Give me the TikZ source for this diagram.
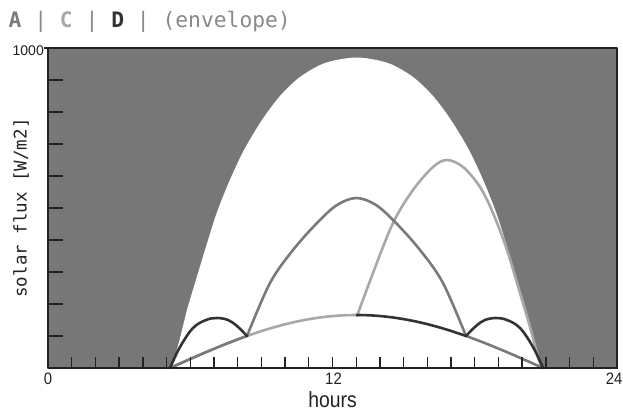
\documentclass[tikz,border=0pt]{standalone}
\usepackage{fontspec}
\setmainfont{Liberation Sans}
\setmonofont{DejaVu Sans Mono}
\definecolor{bg}{HTML}{777777}
\definecolor{cdark}{HTML}{333333}
\definecolor{cmed}{HTML}{7A7A7A}
\definecolor{clight}{HTML}{A8A8A8}
\definecolor{ctxt}{HTML}{222222}
\definecolor{cbar}{HTML}{888888}
\begin{document}
\begin{tikzpicture}[x=1pt,y=-1pt,line join=round]
\tikzset{
  curvedark/.style={draw=cdark,line width=2.6pt,line cap=round},
  curvemed/.style={draw=cmed,line width=2.6pt,line cap=round},
  curvelight/.style={draw=clight,line width=2.6pt,line cap=round},
  axisline/.style={draw=ctxt,line width=2.4pt},
  frameline/.style={draw=ctxt,line width=1.4pt},
  tickline/.style={draw=ctxt,line width=1.4pt},
  numlbl/.style={text=ctxt,inner sep=0pt,font=\fontsize{16.5}{16.5}\selectfont},
}
\useasboundingbox (0,0) rectangle (623,412);
% background of plot
\fill[bg] (48,48) rectangle (617,368);
% envelope
\fill[white] plot[smooth,tension=0.5] coordinates {
  (170,368) (174,360) (180,338) (187,310) (195,283) (205,250) (216,215)
  (229,182) (244,150) (262,120) (280,96) (300,77) (325,63) (356.5,57.5)
  (388,63) (413,77) (433,96) (451,120) (469,150) (484,182) (497,215)
  (508,250) (518,283) (526,310) (533,338) (539,360) (543,368)} -- cycle;
% C (light): baseline to noon, then arch
\draw[curvelight] plot[domain=170:357,samples=60] (\x,{368-53*sin(0.482574*(\x-170))});
\draw[curvelight] plot[smooth,tension=0.55] coordinates {
  (357,316) (373,273) (393,223) (413,190) (433,167) (447,160) (463,167)
  (480,187) (493,213) (507,250) (520,293) (530,327) (539,360) (543,368)};
% A (medium)
\draw[curvemed] plot[domain=170:247,samples=30] (\x,{368-53*sin(0.482574*(\x-170))});
\draw[curvemed] plot[smooth,tension=0.55] coordinates {
  (247,336) (270,283) (293,250) (317,223) (337,205) (356.5,198)
  (376,205) (396,223) (420,250) (443,283) (466,336)};
\draw[curvemed] plot[domain=466:543,samples=30] (\x,{368-53*sin(0.482574*(\x-170))});
% D (dark)
\draw[curvedark] plot[smooth,tension=0.6] coordinates {
  (170,368) (180,347) (193,328) (206,320) (217,318) (228,320) (237,326) (247,336)};
\draw[curvedark] plot[domain=357:466,samples=40] (\x,{368-53*sin(0.482574*(\x-170))});
\draw[curvedark] plot[smooth,tension=0.6] coordinates {
  (466,336) (476,326) (485,320) (496,318) (507,320) (520,328) (533,347) (543,368)};
% frame and axes
\draw[frameline] (48,48) -- (617,48) -- (617,368);
\draw[tickline] (44,48) -- (48,48);
\foreach \k in {1,...,9} \draw[tickline] (48,{48+32*\k}) -- (63,{48+32*\k});
\foreach \h in {1,...,23} \draw[tickline] ({48+23.708*\h},368) -- ({48+23.708*\h},357);
\draw[axisline] (48,47) -- (48,368) -- (618,368);
% labels
\node[numlbl,anchor=east,font=\fontsize{14}{14}\selectfont] (ymax) at (44,51) {1000};
\node[numlbl] (x0) at (48,379) {\scalebox{0.9}[1]{0}};
\node[numlbl] (x12) at (333.5,379) {\scalebox{0.9}[1]{12}};
\node[numlbl] (x24) at (614,379) {\scalebox{0.9}[1]{24}};
\node[text=ctxt,inner sep=0pt,font=\fontsize{22}{22}\selectfont] (xlab) at (332.5,400) {\scalebox{0.88}[1]{hours}};
\node[text=ctxt,inner sep=0pt,rotate=90,font=\ttfamily\fontsize{17.5}{17.5}\selectfont] (ylab) at (21,208) {solar flux [W/m2]};
\node[anchor=base west,inner sep=0pt,font=\ttfamily\fontsize{21.3}{21.3}\selectfont] (title) at (8.5,28) {\textcolor{cmed}{\bfseries A}\textcolor{cbar}{\ |\ }\textcolor{clight}{\bfseries C}\textcolor{cbar}{\ |\ }\textcolor{cdark}{\bfseries D}\textcolor{cbar}{\ |\ (envelope)}};
\end{tikzpicture}
\end{document}
